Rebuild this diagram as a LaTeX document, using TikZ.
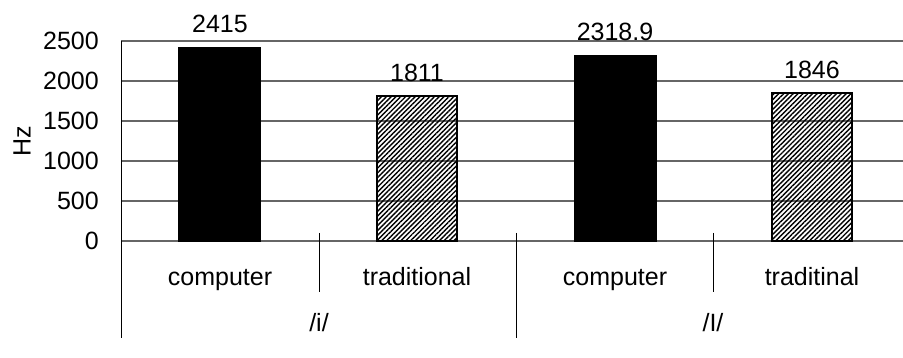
\documentclass[tikz,border=0pt]{standalone}
\usepackage{fontspec}
\setmainfont{Liberation Sans}
\usetikzlibrary{patterns.meta}

\tikzset{
  grid line/.style={draw=black!60,line width=1.3pt},
  cat tick/.style={draw=black,line width=0.9pt},
  solid bar/.style={draw=black,fill=black,line width=1.5pt},
  hatch bar/.style={draw=black,line width=2pt,
    pattern={Lines[angle=45,distance=3.4pt,line width=1.4pt]}},
  value/.style={anchor=base,inner sep=0pt,font=\fontsize{25}{27}\selectfont},
  ylab/.style={anchor=east,inner sep=0pt,font=\fontsize{25}{27}\selectfont},
  catlab/.style={anchor=base,inner sep=0pt,font=\fontsize{25}{27}\selectfont}
}

\begin{document}
\begin{tikzpicture}[x=1pt,y=1pt]
\useasboundingbox (0,0) rectangle (903,358);

% grid
\path[grid line] (121,117) -- (903,117);
\path[grid line] (121,157) -- (903,157);
\path[grid line] (121,197) -- (903,197);
\path[grid line] (121,237) -- (903,237);
\path[grid line] (121,277) -- (903,277);
\path[grid line] (121,317) -- (903,317);

% axes and category ticks
\path[draw=black,line width=1pt] (121,317) -- (121,20);
\path[cat tick] (319,125) -- (319,66);
\path[cat tick] (713,125) -- (713,66);
\path[cat tick] (516,125) -- (516,20);

% y labels
\node[ylab] (y0) at (99,117) {0};
\node[ylab] (y1) at (99,157) {500};
\node[ylab] (y2) at (99,197) {1000};
\node[ylab] (y3) at (99,237) {1500};
\node[ylab] (y4) at (99,277) {2000};
\node[ylab] (y5) at (99,317) {2500};
\node[ylab,anchor=center,rotate=90] (hz) at (22,217) {Hz};

% bars
\path[solid bar] (179,117) rectangle (260,310.2);
\path[hatch bar] (377,117) rectangle (457,261.9);
\path[solid bar] (575,117) rectangle (656,302.5);
\path[hatch bar] (772,117) rectangle (852,264.7);

% values
\node[value] (v1) at (220,325) {2415};
\node[value] (v2) at (417,276.5) {1811};
\node[value] (v3) at (615,317.5) {2318.9};
\node[value] (v4) at (812,279.7) {1846};

% category labels
\node[catlab] (c1) at (220,72) {computer};
\node[catlab] (c2) at (417,72) {traditional};
\node[catlab] (c3) at (615,72) {computer};
\node[catlab] (c4) at (812,72) {traditinal};
\node[catlab] (g1) at (319,26) {/i/};
\node[catlab] (g2) at (713,26) {/I/};
\end{tikzpicture}
\end{document}
